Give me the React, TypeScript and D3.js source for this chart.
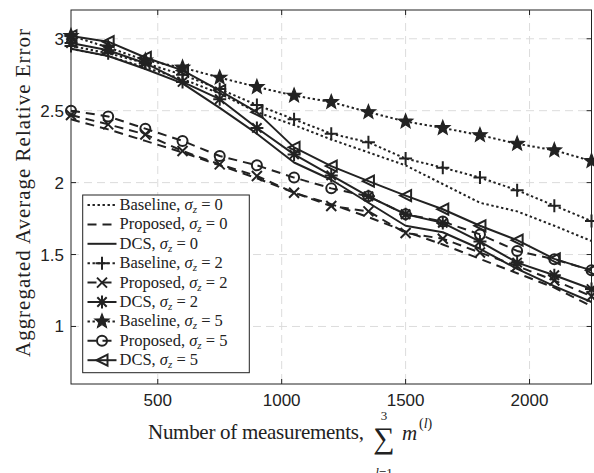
import React from 'react';
import * as d3 from 'd3';

// ---- data ----
const xValues = [150, 300, 450, 600, 750, 900, 1050, 1200, 1350, 1500, 1650, 1800, 1950, 2100, 2250];
const baselineS0 = [2.93, 2.88, 2.8, 2.72, 2.62, 2.49, 2.4, 2.3, 2.21, 2.12, 1.99, 1.86, 1.8, 1.7, 1.594];
const proposedS0 = [2.44, 2.37, 2.29, 2.21, 2.12, 2.03, 1.93, 1.85, 1.76, 1.66, 1.57, 1.47, 1.37, 1.27, 1.14];
const dcsS0 = [2.93, 2.88, 2.79, 2.69, 2.52, 2.34, 2.14, 2.02, 1.86, 1.7, 1.655, 1.54, 1.4, 1.28, 1.17];
const baselineS2 = [2.95, 2.9, 2.83, 2.75, 2.65, 2.54, 2.44, 2.34, 2.28, 2.167, 2.104, 2.035, 1.947, 1.84, 1.733];
const proposedS2 = [2.47, 2.405, 2.335, 2.22, 2.127, 2.046, 1.93, 1.837, 1.8, 1.65, 1.61, 1.514, 1.42, 1.32, 1.21];
const dcsS2 = [2.97, 2.92, 2.83, 2.7, 2.58, 2.38, 2.196, 2.05, 1.905, 1.78, 1.72, 1.59, 1.444, 1.356, 1.26];
const baselineS5 = [3.02, 2.94, 2.85, 2.8, 2.73, 2.665, 2.605, 2.56, 2.49, 2.425, 2.38, 2.33, 2.27, 2.225, 2.15];
const proposedS5 = [2.5, 2.46, 2.375, 2.29, 2.185, 2.12, 2.035, 1.96, 1.905, 1.78, 1.73, 1.64, 1.525, 1.467, 1.39];
const dcsS5 = [3.02, 2.98, 2.87, 2.78, 2.64, 2.49, 2.245, 2.115, 2.01, 1.91, 1.815, 1.7, 1.6, 1.47, 1.39];

const seriesNames = ['Baseline', 'Proposed', 'DCS', 'Baseline', 'Proposed', 'DCS', 'Baseline', 'Proposed', 'DCS'];
const seriesSigmas = ['0', '0', '0', '2', '2', '2', '5', '5', '5'];
const seriesValues = [baselineS0, proposedS0, dcsS0, baselineS2, proposedS2, dcsS2, baselineS5, proposedS5, dcsS5];
const seriesStyles = ['dotted', 'dashed', 'solid', 'dotted', 'dashed', 'solid', 'dotted', 'dashed', 'solid'];
const seriesMarkers = ['none', 'none', 'none', 'plus', 'x', 'asterisk', 'star', 'circle', 'triangle'];

const xTicks = [500, 1000, 1500, 2000];
const yTicks = [1, 1.5, 2, 2.5, 3];
const xDomain = [150, 2250];
const yDomain = [0.6, 3.2];

const W = 594;
const H = 473;
const plot = { left: 71, right: 591.5, top: 10, bottom: 384 };
const ink = '#222';

const dashFor = (s: string) => (s === 'dotted' ? '2.4,2.6' : s === 'dashed' ? '9,6' : undefined);

function Marker({ type, x, y }: { type: string; x: number; y: number }) {
  const sw = 2;
  if (type === 'none') return null;
  if (type === 'plus') {
    const s = 6.5;
    return <path d={`M${x - s},${y}H${x + s}M${x},${y - s}V${y + s}`} stroke={ink} strokeWidth={sw} fill="none" />;
  }
  if (type === 'x') {
    const s = 5;
    return <path d={`M${x - s},${y - s}L${x + s},${y + s}M${x - s},${y + s}L${x + s},${y - s}`} stroke={ink} strokeWidth={sw} fill="none" />;
  }
  if (type === 'asterisk') {
    const s = 6.5;
    const d = s * 0.72;
    return (
      <path
        d={`M${x - s},${y}H${x + s}M${x},${y - s}V${y + s}M${x - d},${y - d}L${x + d},${y + d}M${x - d},${y + d}L${x + d},${y - d}`}
        stroke={ink}
        strokeWidth={sw}
        fill="none"
      />
    );
  }
  if (type === 'circle') {
    return <circle cx={x} cy={y} r={5} stroke={ink} strokeWidth={sw} fill="none" />;
  }
  if (type === 'triangle') {
    const s = 5.5;
    return <path d={`M${x - s},${y}L${x + s},${y - s}L${x + s},${y + s}Z`} stroke={ink} strokeWidth={sw} fill="none" strokeLinejoin="miter" />;
  }
  if (type === 'star') {
    const R = 7.5;
    const r = 3.2;
    const pts: string[] = [];
    for (let i = 0; i < 10; i++) {
      const a = -Math.PI / 2 + (i * Math.PI) / 5;
      const rr = i % 2 === 0 ? R : r;
      pts.push(`${x + rr * Math.cos(a)},${y + rr * Math.sin(a)}`);
    }
    return <path d={`M${pts.join('L')}Z`} stroke={ink} strokeWidth={1.2} fill={ink} />;
  }
  return null;
}

function SigmaLabel({ name, sigma, x, y }: { name: string; sigma: string; x: number; y: number }) {
  return (
    <text x={x} y={y} fontFamily="'Liberation Serif', serif" fontSize={16.5} fill={ink}>
      {name},{' '}
      <tspan fontStyle="italic">σ</tspan>
      <tspan fontStyle="italic" fontSize={11} dy={3}>z</tspan>
      <tspan dy={-3}> = {sigma}</tspan>
    </text>
  );
}

export default function App() {
  const x = d3.scaleLinear().domain(xDomain).range([plot.left, plot.right]);
  const y = d3.scaleLinear().domain(yDomain).range([plot.bottom, plot.top]);
  const line = d3
    .line<number>()
    .x((_, i) => x(xValues[i]))
    .y((v) => y(v));

  const legend = { x0: 82.7, y0: 195, x1: 249.3, y1: 372.7, row0: 205, step: 19.4 };

  return (
    <div style={{ position: 'absolute', left: 0, top: 0 }}>
      <svg width={W} height={H} style={{ display: 'block', background: '#fff' }}>
        <rect x={0} y={0} width={W} height={H} fill="#fff" />
        {/* grid */}
        <g stroke="#dcdcdc" strokeWidth={1} strokeDasharray="8,5">
          {xTicks.map((t) => (
            <line key={'gx' + t} x1={x(t)} x2={x(t)} y1={plot.top} y2={plot.bottom} />
          ))}
          {yTicks.map((t) => (
            <line key={'gy' + t} x1={plot.left} x2={plot.right} y1={y(t)} y2={y(t)} />
          ))}
        </g>
        {/* series lines */}
        <g>
          {seriesValues.map((vals, i) => (
            <path
              key={'l' + i}
              d={line(vals) || ''}
              fill="none"
              stroke={ink}
              strokeWidth={2}
              strokeDasharray={dashFor(seriesStyles[i])}
              strokeLinejoin="round"
            />
          ))}
        </g>
        {/* markers */}
        <g>
          {seriesValues.map((vals, i) =>
            vals.map((v, j) => <Marker key={`m${i}-${j}`} type={seriesMarkers[i]} x={x(xValues[j])} y={y(v)} />)
          )}
        </g>
        {/* axes box */}
        <rect
          x={plot.left}
          y={plot.top}
          width={plot.right - plot.left}
          height={plot.bottom - plot.top}
          fill="none"
          stroke={ink}
          strokeWidth={1}
        />
        {/* ticks */}
        <g stroke={ink} strokeWidth={1}>
          {xTicks.map((t) => (
            <g key={'tx' + t}>
              <line x1={x(t)} x2={x(t)} y1={plot.bottom} y2={plot.bottom - 5} />
              <line x1={x(t)} x2={x(t)} y1={plot.top} y2={plot.top + 5} />
            </g>
          ))}
          {yTicks.map((t) => (
            <g key={'ty' + t}>
              <line x1={plot.left} x2={plot.left + 5} y1={y(t)} y2={y(t)} />
              <line x1={plot.right} x2={plot.right - 5} y1={y(t)} y2={y(t)} />
            </g>
          ))}
        </g>
        <g fontFamily="'Liberation Sans', Arial, sans-serif" fontSize={17} fill={ink}>
          {xTicks.map((t) => (
            <text key={'lx' + t} x={x(t)} y={406} textAnchor="middle">
              {t}
            </text>
          ))}
          {yTicks.map((t) => (
            <text key={'ly' + t} x={64} y={y(t) + 6} textAnchor="end">
              {t}
            </text>
          ))}
        </g>
        {/* y label */}
        <text
          transform={`translate(30,193) rotate(-90)`}
          textAnchor="middle"
          fontFamily="'Liberation Serif', serif"
          fontSize={21}
          textLength={328}
          lengthAdjust="spacing"
          fill={ink}
        >
          Aggregated Average Relative Error
        </text>
        {/* x label */}
        <g fontFamily="'Liberation Serif', serif" fill={ink}>
          <text x={148} y={439} fontSize={21} textLength={216} lengthAdjust="spacing">
            Number of measurements,
          </text>
          <text x={384} y={448} fontSize={30} textAnchor="middle">
            ∑
          </text>
          <text x={384} y={420} fontSize={13} textAnchor="middle">
            3
          </text>
          <text x={384} y={477} fontSize={13} textAnchor="middle" fontStyle="italic">
            l<tspan fontStyle="normal">=1</tspan>
          </text>
          <text x={402} y={440} fontSize={21} fontStyle="italic">
            m
          </text>
          <text x={419} y={428} fontSize={14}>
            (<tspan fontStyle="italic">l</tspan>)
          </text>
        </g>
        {/* legend */}
        <rect
          x={legend.x0}
          y={legend.y0}
          width={legend.x1 - legend.x0}
          height={legend.y1 - legend.y0}
          fill="#fff"
          stroke={ink}
          strokeWidth={1}
        />
        {seriesValues.map((_, i) => {
          const ry = legend.row0 + i * legend.step;
          return (
            <g key={'lg' + i}>
              <line
                x1={87.5}
                x2={116.5}
                y1={ry}
                y2={ry}
                stroke={ink}
                strokeWidth={2}
                strokeDasharray={dashFor(seriesStyles[i])}
              />
              <Marker type={seriesMarkers[i]} x={102} y={ry} />
              <SigmaLabel name={seriesNames[i]} sigma={seriesSigmas[i]} x={119.5} y={ry + 5} />
            </g>
          );
        })}
      </svg>
    </div>
  );
}
